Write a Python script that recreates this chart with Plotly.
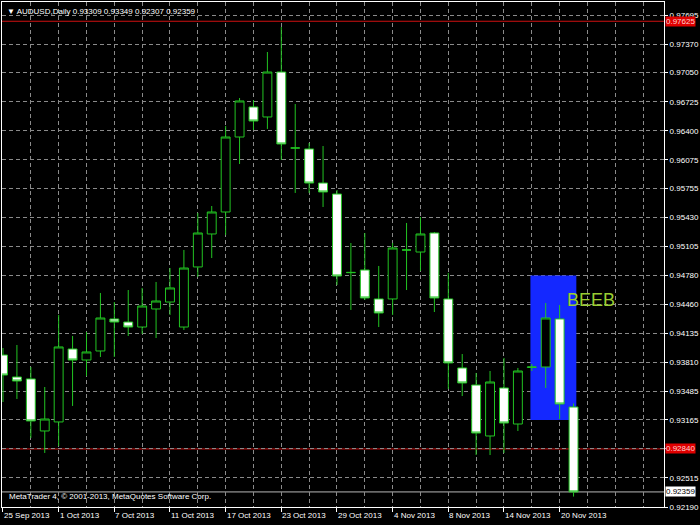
import plotly.graph_objects as go
import pandas as pd

# ---- data ----
opens = [0.93891, 0.93645, 0.93623, 0.93041, 0.93142, 0.93958, 0.93835, 0.93936, 0.94294, 0.94260,
         0.94204, 0.94406, 0.94484, 0.94204, 0.94876, 0.95245, 0.95491, 0.96330, 0.96666, 0.96554,
         0.97057, 0.96207, 0.96196, 0.95815, 0.95692, 0.94812, 0.94842, 0.94518, 0.94518, 0.95066,
         0.95043, 0.95256, 0.94518, 0.93746, 0.93555, 0.92985, 0.93522, 0.93119, 0.93752, 0.93757,
         0.94294, 0.93309]
highs = [0.93969, 0.94003, 0.93757, 0.93533, 0.94339, 0.94104, 0.94148, 0.94585, 0.94484, 0.94618,
         0.94641, 0.94708, 0.94864, 0.95066, 0.95480, 0.95558, 0.96453, 0.96766, 0.96744, 0.97281,
         0.97561, 0.96699, 0.96263, 0.96229, 0.95737, 0.95144, 0.95256, 0.94887, 0.95144, 0.95368,
         0.95435, 0.95267, 0.94809, 0.93902, 0.93690, 0.93712, 0.93858, 0.93746, 0.93790, 0.94473,
         0.94451, 0.93349]
lows = [0.93365, 0.93399, 0.92963, 0.92795, 0.92873, 0.93321, 0.93656, 0.93869, 0.93869, 0.94104,
        0.94126, 0.94081, 0.94339, 0.94171, 0.94764, 0.94976, 0.95234, 0.96028, 0.96408, 0.96420,
        0.96073, 0.95704, 0.95704, 0.95547, 0.94674, 0.94395, 0.94506, 0.94204, 0.94339, 0.94618,
        0.94831, 0.94372, 0.93511, 0.93432, 0.92772, 0.92772, 0.92795, 0.93041, 0.93712, 0.93522,
        0.93175, 0.92307]
closes = [0.93667, 0.93600, 0.93153, 0.93175, 0.93981, 0.93835, 0.93925, 0.94305, 0.94260, 0.94204,
          0.94439, 0.94495, 0.94641, 0.94864, 0.95256, 0.95491, 0.96330, 0.96733, 0.96509, 0.97057,
          0.96252, 0.96207, 0.95815, 0.95715, 0.94775, 0.94815, 0.94529, 0.94361, 0.95088, 0.95066,
          0.95245, 0.94529, 0.93802, 0.93578, 0.93018, 0.93589, 0.93130, 0.93712, 0.93757, 0.94305,
          0.93343, 0.92359]

dates = pd.bdate_range("2013-09-25", periods=len(opens))
date_labels = ["25 Sep 2013", "1 Oct 2013", "7 Oct 2013", "11 Oct 2013", "17 Oct 2013",
               "23 Oct 2013", "29 Oct 2013", "4 Nov 2013", "8 Nov 2013", "14 Nov 2013",
               "20 Nov 2013"]
label_every = 4

price_ticks = [0.97695, 0.97370, 0.97050, 0.96725, 0.96400, 0.96075, 0.95755, 0.95430,
               0.95105, 0.94780, 0.94460, 0.94135, 0.93810, 0.93485, 0.93165, 0.92840,
               0.92515, 0.92190]

red_levels = [0.97625, 0.92840]
bid_level = closes[-1]

box_x = [37.9, 41.2]
box_y = [0.93165, 0.94780]
box_text = "BEEB"
box_text_pos = (40.38, 0.94506)

symbol = "AUDUSD,Daily"
copyright_text = "MetaTrader 4, \u00a9 2001-2013, MetaQuotes Software Corp."

# ---- styling ----
GREEN = "#22c422"
GRID = "#8a8a8a"
FONT = "Liberation Sans"

idx = list(range(len(opens)))
fig = go.Figure()

fig.add_trace(go.Candlestick(
    x=idx, open=opens, high=highs, low=lows, close=closes,
    increasing=dict(line=dict(color=GREEN, width=1), fillcolor="black"),
    decreasing=dict(line=dict(color=GREEN, width=1), fillcolor="white"),
    whiskerwidth=0, hoverinfo="skip", showlegend=False,
))

# blue rectangle object (above grid, below candles)
fig.add_shape(type="rect", xref="x", yref="y", x0=box_x[0], x1=box_x[1],
              y0=box_y[0], y1=box_y[1], fillcolor="#1428ff", line=dict(width=0),
              layer="between")

# horizontal level lines
for lv in red_levels:
    fig.add_shape(type="line", xref="paper", yref="y", x0=0, x1=1, y0=lv, y1=lv,
                  line=dict(color="#d01010", width=1), layer="between")
fig.add_shape(type="line", xref="paper", yref="y", x0=0, x1=1, y0=bid_level, y1=bid_level,
              line=dict(color="#b8b8b8", width=1), layer="between")

# price labels on axis
for lv in red_levels:
    fig.add_annotation(xref="paper", yref="y", x=1, y=lv, xanchor="left", yanchor="middle",
                       text=f"{lv:.5f}", showarrow=False, xshift=1,
                       font=dict(family=FONT, size=8, color="#ffd0d0"),
                       bgcolor="#e00000", borderpad=0)
fig.add_annotation(xref="paper", yref="y", x=1, y=bid_level, xanchor="left", yanchor="middle",
                   text=f"{bid_level:.5f}", showarrow=False, xshift=1,
                   font=dict(family=FONT, size=8, color="black"),
                   bgcolor="white", borderpad=0)

# date labels
for k, lab in enumerate(date_labels):
    fig.add_annotation(xref="x", yref="paper", x=k * label_every, y=0, xanchor="left",
                       yanchor="top", text=lab, showarrow=False, xshift=-1, yshift=-2,
                       font=dict(family=FONT, size=8, color="white"))

# header
fig.add_annotation(xref="paper", yref="paper", x=0, y=1, xanchor="left", yanchor="top",
                   xshift=3, yshift=-3, showarrow=False,
                   text=f"\u25bc {symbol} {opens[-1]:.5f} {highs[-1]:.5f} {lows[-1]:.5f} {closes[-1]:.5f}",
                   font=dict(family=FONT, size=8, color="white"))
# copyright
fig.add_annotation(xref="paper", yref="paper", x=0, y=0, xanchor="left", yanchor="bottom",
                   xshift=5, yshift=4, showarrow=False, text=copyright_text,
                   font=dict(family=FONT, size=8, color="white"))
# BEEB text
fig.add_annotation(xref="x", yref="y", x=box_text_pos[0], y=box_text_pos[1], xanchor="left",
                   yanchor="middle", showarrow=False, text=box_text,
                   font=dict(family=FONT, size=18, color="#9acd32"))

major = list(range(0, len(date_labels) * label_every, label_every))
minor_vals = [i for i in range(0, 48, 2) if i not in major]
# tick labels hidden under the level labels
tick_text = ["" if any(abs(v - lv) < 1e-6 for lv in red_levels) else f"{v:.5f}"
             for v in price_ticks]

fig.update_layout(
    width=700, height=525,
    margin=dict(l=1, r=33, t=2, b=18),
    paper_bgcolor="black", plot_bgcolor="black",
    boxgap=0.36, boxgroupgap=0,
    font=dict(family=FONT, size=8, color="white"),
    xaxis=dict(range=[-1 / 14, 665 / 14], rangeslider=dict(visible=False),
               tickmode="array", tickvals=major, showticklabels=False,
               ticks="outside", ticklen=4, tickcolor="white",
               showgrid=True, gridcolor=GRID, griddash="4px,3px", gridwidth=1,
               minor=dict(tickvals=minor_vals, showgrid=True, gridcolor=GRID,
                          griddash="4px,3px", ticks=""),
               showline=True, linecolor="white", linewidth=1, mirror=True,
               zeroline=False, fixedrange=True),
    yaxis=dict(range=[0.921904, 0.978404], side="right",
               tickmode="array", tickvals=price_ticks, ticktext=tick_text,
               ticks="outside", ticklen=3, tickcolor="white",
               tickfont=dict(family=FONT, size=8, color="white"),
               showgrid=True, gridcolor=GRID, griddash="4px,3px", gridwidth=1,
               showline=True, linecolor="white", linewidth=1, mirror=True,
               zeroline=False, fixedrange=True),
)

fig.write_html("out.html", config={"displayModeBar": False},
               post_script="document.body.style.margin='0px';document.body.style.background='black';document.body.style.overflow='hidden';")
